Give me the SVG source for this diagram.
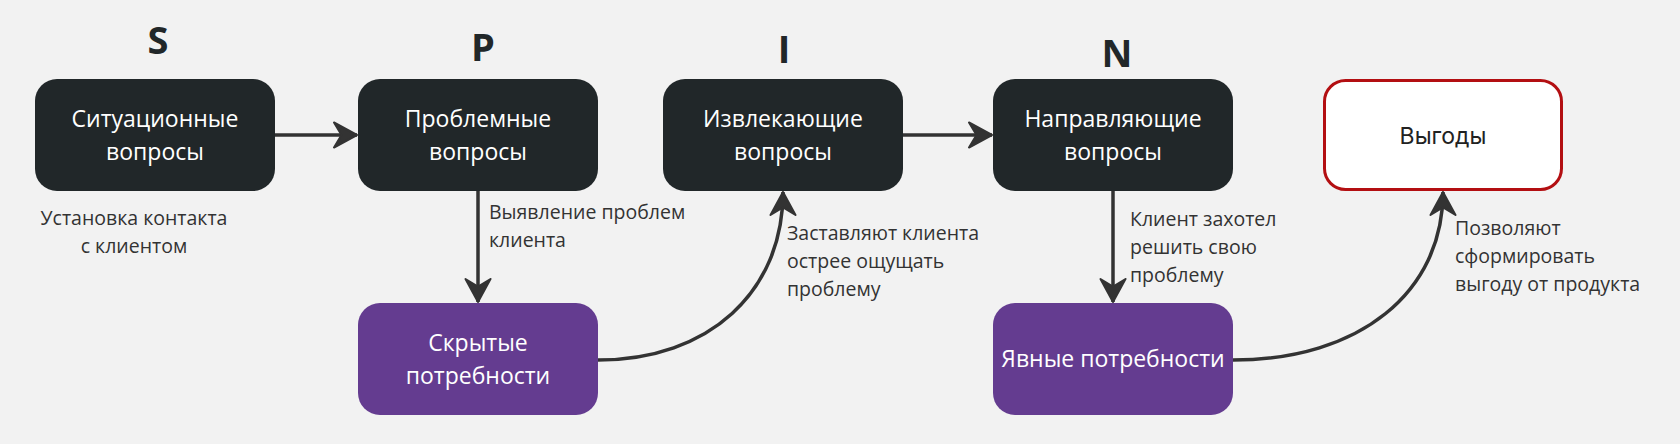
<svg xmlns="http://www.w3.org/2000/svg" width="1680" height="444" viewBox="0 0 1680 444">
  <defs>
    <style>
      .bg { fill: #f2f2f2; }
      .dark { fill: #212729; }
      .purple { fill: #643c90; }
      .white { fill: #ffffff; stroke: #b30f12; stroke-width: 3; }
      .nt { font-family: "Open Sans", "Liberation Sans", sans-serif; font-size: 23px; fill: #ffffff; text-anchor: middle; }
      .nt2 { font-family: "Inter", "Open Sans", sans-serif; font-size: 23px; fill: #222222; text-anchor: middle; }
      .lt { font-family: "Open Sans", "Liberation Sans", sans-serif; font-size: 19.5px; fill: #333333; }
      .big { font-family: "Open Sans", "Liberation Sans", sans-serif; font-size: 38px; font-weight: bold; fill: #212729; text-anchor: middle; }
      .conn { fill: none; stroke: #333333; stroke-width: 3.5; }
    </style>
    <marker id="arrow" viewBox="0 0 26 28" refX="25" refY="14" markerWidth="26" markerHeight="28" markerUnits="userSpaceOnUse" orient="auto">
      <path d="M25,14 L2,1.5 L9.5,14 L2,26.5 Z" fill="#333333" stroke="#333333" stroke-width="2" stroke-linejoin="round"/>
    </marker>
  </defs>
  <rect class="bg" x="0" y="0" width="1680" height="444"/>

  <g id="letters">
    <text class="big" x="158" y="54">S</text>
    <text class="big" x="483" y="61">P</text>
    <text class="big" x="784" y="63">I</text>
    <text class="big" x="1117" y="67">N</text>
  </g>

  <g id="connectors">
    <path class="conn" d="M275,135 L357,135" marker-end="url(#arrow)"/>
    <path class="conn" d="M903,135 L992,135" marker-end="url(#arrow)"/>
    <path class="conn" d="M478,191 L478,302" marker-end="url(#arrow)"/>
    <path class="conn" d="M1113,191 L1113,302" marker-end="url(#arrow)"/>
    <path class="conn" d="M598,360 C709,360 783,292 783,192" marker-end="url(#arrow)"/>
    <path class="conn" d="M1233,360 C1360,360 1443,292 1443,192" marker-end="url(#arrow)"/>
  </g>

  <g id="node-situational">
    <rect class="dark" x="35" y="79" width="240" height="112" rx="22"/>
    <text class="nt" x="155" y="127">Ситуационные</text>
    <text class="nt" x="155" y="160">вопросы</text>
  </g>
  <g id="node-problem">
    <rect class="dark" x="358" y="79" width="240" height="112" rx="22"/>
    <text class="nt" x="478" y="127">Проблемные</text>
    <text class="nt" x="478" y="160">вопросы</text>
  </g>
  <g id="node-implication">
    <rect class="dark" x="663" y="79" width="240" height="112" rx="22"/>
    <text class="nt" x="783" y="127">Извлекающие</text>
    <text class="nt" x="783" y="160">вопросы</text>
  </g>
  <g id="node-need">
    <rect class="dark" x="993" y="79" width="240" height="112" rx="22"/>
    <text class="nt" x="1113" y="127">Направляющие</text>
    <text class="nt" x="1113" y="160">вопросы</text>
  </g>
  <g id="node-benefits">
    <rect class="white" x="1324.5" y="80.5" width="237" height="109" rx="21"/>
    <text class="nt2" x="1443" y="144">Выгоды</text>
  </g>
  <g id="node-hidden">
    <rect class="purple" x="358" y="303" width="240" height="112" rx="22"/>
    <text class="nt" x="478" y="351">Скрытые</text>
    <text class="nt" x="478" y="384">потребности</text>
  </g>
  <g id="node-explicit">
    <rect class="purple" x="993" y="303" width="240" height="112" rx="22"/>
    <text class="nt" x="1113" y="367">Явные потребности</text>
  </g>

  <g id="labels">
    <text class="lt" x="134" y="225" text-anchor="middle">Установка контакта</text>
    <text class="lt" x="134" y="253" text-anchor="middle">с клиентом</text>
    <text class="lt" x="489" y="219">Выявление проблем</text>
    <text class="lt" x="489" y="247">клиента</text>
    <text class="lt" x="787" y="240">Заставляют клиента</text>
    <text class="lt" x="787" y="268">острее ощущать</text>
    <text class="lt" x="787" y="296">проблему</text>
    <text class="lt" x="1130" y="226">Клиент захотел</text>
    <text class="lt" x="1130" y="254">решить свою</text>
    <text class="lt" x="1130" y="282">проблему</text>
    <text class="lt" x="1455" y="235">Позволяют</text>
    <text class="lt" x="1455" y="263">сформировать</text>
    <text class="lt" x="1455" y="291">выгоду от продукта</text>
  </g>
</svg>
